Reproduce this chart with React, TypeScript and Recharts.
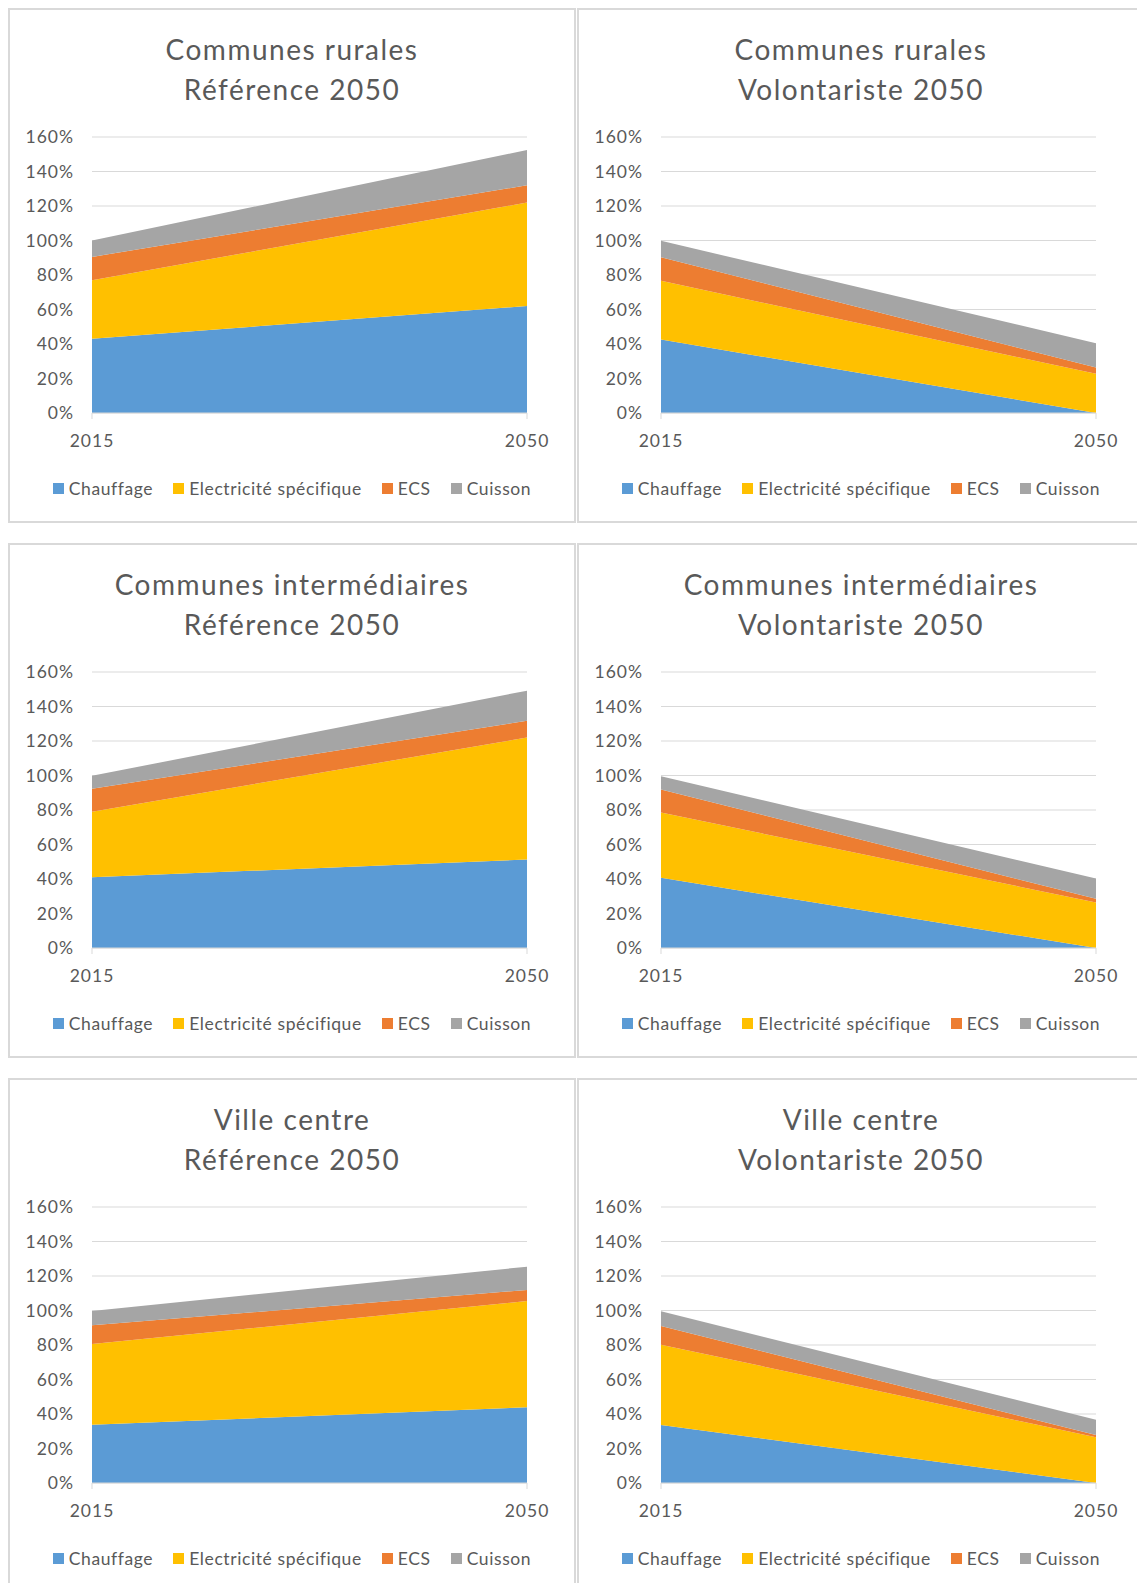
import React from 'react';
import { AreaChart, Area, XAxis, YAxis, CartesianGrid } from 'recharts';

const years = ['2015', '2050'];
const seriesNames = ['Chauffage', 'Electricité spécifique', 'ECS', 'Cuisson'];
const seriesColors = ['#5B9BD5', '#FFC000', '#ED7D31', '#A5A5A5'];
const yTicks = [0, 20, 40, 60, 80, 100, 120, 140, 160];

// values in %, one row per series (Chauffage, Electricité spécifique, ECS, Cuisson), columns = years
const ruralRef = [[43, 62], [34, 60], [13.5, 10], [9.5, 20.5]];
const ruralVol = [[42.6, 0], [34, 22.7], [13.7, 3.7], [9.5, 14.1]];
const interRef = [[41, 51.3], [38, 70.7], [13.3, 9.7], [7.5, 17.5]];
const interVol = [[40.7, 0], [37.8, 26.4], [13.4, 2.1], [7.6, 11.8]];
const villeRef = [[33.8, 43.9], [46.8, 61.6], [10.8, 6.4], [8.3, 13.5]];
const villeVol = [[33.6, 0], [46.6, 26.5], [10.8, 1.3], [8.5, 8.9]];

const panels = [
  { title: ['Communes rurales', 'Référence 2050'], values: ruralRef, left: 8, top: 8 },
  { title: ['Communes rurales', 'Volontariste 2050'], values: ruralVol, left: 577, top: 8 },
  { title: ['Communes intermédiaires', 'Référence 2050'], values: interRef, left: 8, top: 543 },
  { title: ['Communes intermédiaires', 'Volontariste 2050'], values: interVol, left: 577, top: 543 },
  { title: ['Ville centre', 'Référence 2050'], values: villeRef, left: 8, top: 1078 },
  { title: ['Ville centre', 'Volontariste 2050'], values: villeVol, left: 577, top: 1078 },
];

const FONT = 'Lato, "Open Sans", sans-serif';
const TEXT = '#595959';
const GRID = '#d9d9d9';

const tickStyle = { fill: TEXT, fontSize: 17.5, fontFamily: FONT, letterSpacing: 1 };

function Panel({ title, values, left, top }: { title: string[]; values: number[][]; left: number; top: number }) {
  const data = years.map((year, i) => {
    const row: Record<string, string | number> = { year };
    seriesNames.forEach((name, s) => {
      row[name] = values[s][i];
    });
    return row;
  });

  return (
    <div
      style={{
        position: 'absolute',
        left,
        top,
        width: 568,
        height: 515,
        border: `2px solid ${GRID}`,
        boxSizing: 'border-box',
        background: '#fff',
      }}
    >
      <div
        style={{
          position: 'absolute',
          top: 18.5,
          left: 0,
          width: '100%',
          textAlign: 'center',
          fontSize: 28,
          lineHeight: '40.5px',
          color: TEXT,
          letterSpacing: 1.5,
        }}
      >
        {title.map((t) => (
          <div key={t}>{t}</div>
        ))}
      </div>
      <div style={{ position: 'absolute', left: 0, top: 0 }}>
        <AreaChart width={564} height={511} data={data} margin={{ top: 127, right: 47, bottom: 78, left: 0 }}>
          <CartesianGrid vertical={false} stroke={GRID} strokeWidth={1.2} />
          <XAxis dataKey="year" stroke={GRID} tickSize={6} tickMargin={16} height={30} tick={tickStyle} />
          <YAxis
            domain={[0, 160]}
            ticks={yTicks}
            width={82}
            axisLine={false}
            tickLine={false}
            tickSize={0}
            tickMargin={18}
            tickFormatter={(v: number) => `${v}%`}
            tick={tickStyle}
          />
          {seriesNames.map((name, s) => (
            <Area
              key={name}
              type="linear"
              dataKey={name}
              stackId="1"
              stroke="none"
              fill={seriesColors[s]}
              fillOpacity={1}
              isAnimationActive={false}
            />
          ))}
        </AreaChart>
      </div>
      <div
        style={{
          position: 'absolute',
          top: 466,
          left: 0,
          width: '100%',
          height: 24,
          display: 'flex',
          justifyContent: 'center',
          alignItems: 'center',
          fontSize: 17.5,
          letterSpacing: 0.6,
          color: TEXT,
          gap: 20,
        }}
      >
        {seriesNames.map((name, s) => (
          <div key={name} style={{ display: 'flex', alignItems: 'center', gap: 5 }}>
            <span style={{ width: 11, height: 11, background: seriesColors[s], display: 'inline-block' }} />
            <span>{name}</span>
          </div>
        ))}
      </div>
    </div>
  );
}

export default function App() {
  return (
    <div
      style={{
        position: 'absolute',
        left: 0,
        top: 0,
        width: 1137,
        height: 1583,
        overflow: 'hidden',
        background: '#fff',
        fontFamily: FONT,
      }}
    >
      {panels.map((p) => (
        <Panel key={p.title.join(' ')} {...p} />
      ))}
    </div>
  );
}
